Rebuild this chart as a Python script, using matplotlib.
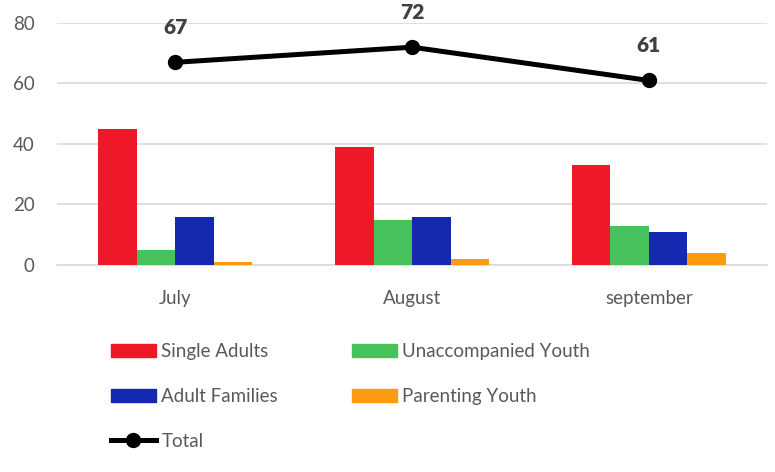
import matplotlib.pyplot as plt
import numpy as np
from matplotlib.patches import Patch
from matplotlib.lines import Line2D

plt.rcParams['font.family'] = ['Lato', 'DejaVu Sans']

months = ['July', 'August', 'september']
single_adults = [45, 39, 33]
unaccompanied_youth = [5, 15, 13]
adult_families = [16, 16, 11]
parenting_youth = [1, 2, 4]
total = [67, 72, 61]

series = [
    ('Single Adults', single_adults, '#ef1828'),
    ('Unaccompanied Youth', unaccompanied_youth, '#47c15c'),
    ('Adult Families', adult_families, '#1428b0'),
    ('Parenting Youth', parenting_youth, '#fc9a10'),
]
grey = '#595959'

fig = plt.figure(figsize=(7.75, 4.72), dpi=100)
ax = fig.add_axes([0.0735, 0.4386, 0.9165, 0.5127])

x = np.arange(len(months))
width = 0.1625
for i, (name, vals, color) in enumerate(series):
    ax.bar(x + (i - 1.5) * width, vals, width, color=color, zorder=3)

ax.plot(x, total, color='black', linewidth=3.6, marker='o', markersize=10, zorder=4)
for xi, t in zip(x, total):
    ax.annotate(str(t), (xi, t), xytext=(0, 25), textcoords='offset points',
                ha='center', va='center', fontsize=15, fontweight='heavy', color='#404040')

ax.set_xlim(-0.5, 2.5)
ax.set_ylim(0, 80)
ax.set_yticks([0, 20, 40, 60, 80])
ax.set_xticks(x)
ax.set_xticklabels(months)
ax.grid(axis='y', color='#d9d9d9', linewidth=1.2, zorder=0)
for s in ['top', 'right', 'left']:
    ax.spines[s].set_visible(False)
ax.spines['bottom'].set_color('#d9d9d9')
ax.spines['bottom'].set_linewidth(1.2)
ax.tick_params(axis='both', length=0, labelsize=13.5, colors=grey)
ax.tick_params(axis='y', pad=16)
ax.tick_params(axis='x', pad=18)

handles = [
    Patch(color=series[0][2], label=series[0][0]),
    Patch(color=series[2][2], label=series[2][0]),
    Line2D([], [], color='black', linewidth=3.6, marker='o', markersize=10, label='Total'),
    Patch(color=series[1][2], label=series[1][0]),
    Patch(color=series[3][2], label=series[3][0]),
]
leg = fig.legend(handles=handles, ncol=2, loc='upper left', bbox_to_anchor=(0.143, 0.274),
                 frameon=False, fontsize=13.5, handlelength=2.4, handleheight=0.7,
                 handletextpad=0.3, labelspacing=1.5, columnspacing=3.93,
                 borderaxespad=0, borderpad=0)
for t in leg.get_texts():
    t.set_color(grey)

plt.savefig('out.png', dpi=100)
